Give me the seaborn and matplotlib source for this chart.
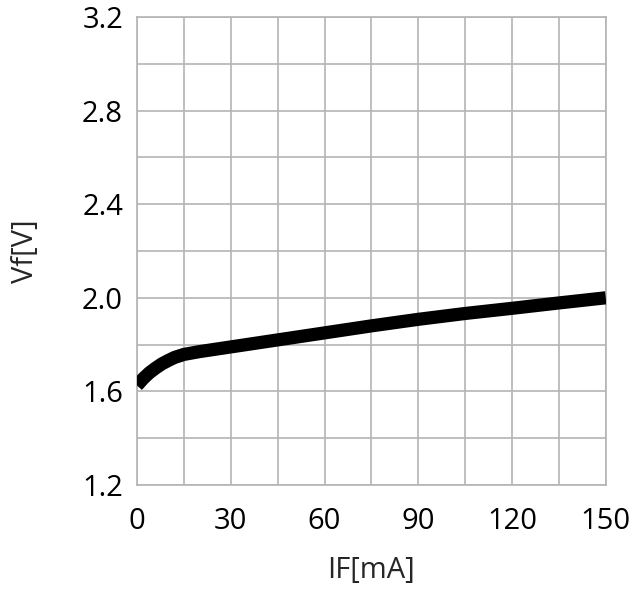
import numpy as np
import pandas as pd
import matplotlib
matplotlib.use("Agg")
import matplotlib.pyplot as plt
import seaborn as sns

# forward current vs forward voltage
if_ma = [0, 1, 2, 4, 6, 8, 10, 12, 15, 20, 30, 45, 60, 75, 90, 105, 120, 135, 150]
vf_v = [1.625, 1.64, 1.655, 1.68, 1.70, 1.718, 1.732, 1.745, 1.758, 1.77, 1.79, 1.82, 1.85, 1.88, 1.908, 1.933, 1.955, 1.978, 2.0]

x_ticks = [0, 30, 60, 90, 120, 150]
y_ticks = [1.2, 1.6, 2.0, 2.4, 2.8, 3.2]

df = pd.DataFrame({"IF": if_ma, "Vf": vf_v})

sns.set_style("white")
plt.rcParams["font.family"] = ["Open Sans", "DejaVu Sans"]

fig = plt.figure(figsize=(6.39, 5.89), dpi=100)
ax = fig.add_axes([0.2144, 0.1766, 0.7336, 0.7945])

sns.lineplot(data=df, x="IF", y="Vf", ax=ax, color="black", linewidth=9.5,
             solid_capstyle="butt", solid_joinstyle="round", zorder=3)

ax.set_xlim(0, 150)
ax.set_ylim(1.2, 3.2)
ax.set_xticks(np.arange(0, 151, 15), minor=True)
ax.set_yticks(np.arange(1.2, 3.21, 0.2), minor=True)
ax.set_xticks(x_ticks)
ax.set_yticks(y_ticks)
ax.set_xticklabels([str(v) for v in x_ticks])
ax.set_yticklabels([f"{v:.1f}" for v in y_ticks])
ax.grid(True, which="both", color="#b4b4b4", linewidth=1.2)
ax.tick_params(which="both", length=0, labelsize=21, colors="black")
ax.tick_params(axis="x", pad=16)
ax.tick_params(axis="y", pad=10)
for s in ax.spines.values():
    s.set_color("#b4b4b4")
    s.set_linewidth(1.2)

ax.set_xlabel("IF[mA]", fontsize=21, labelpad=14)
ax.set_ylabel("Vf[V]", fontsize=21, labelpad=30)

fig.savefig("out.png", dpi=100)
